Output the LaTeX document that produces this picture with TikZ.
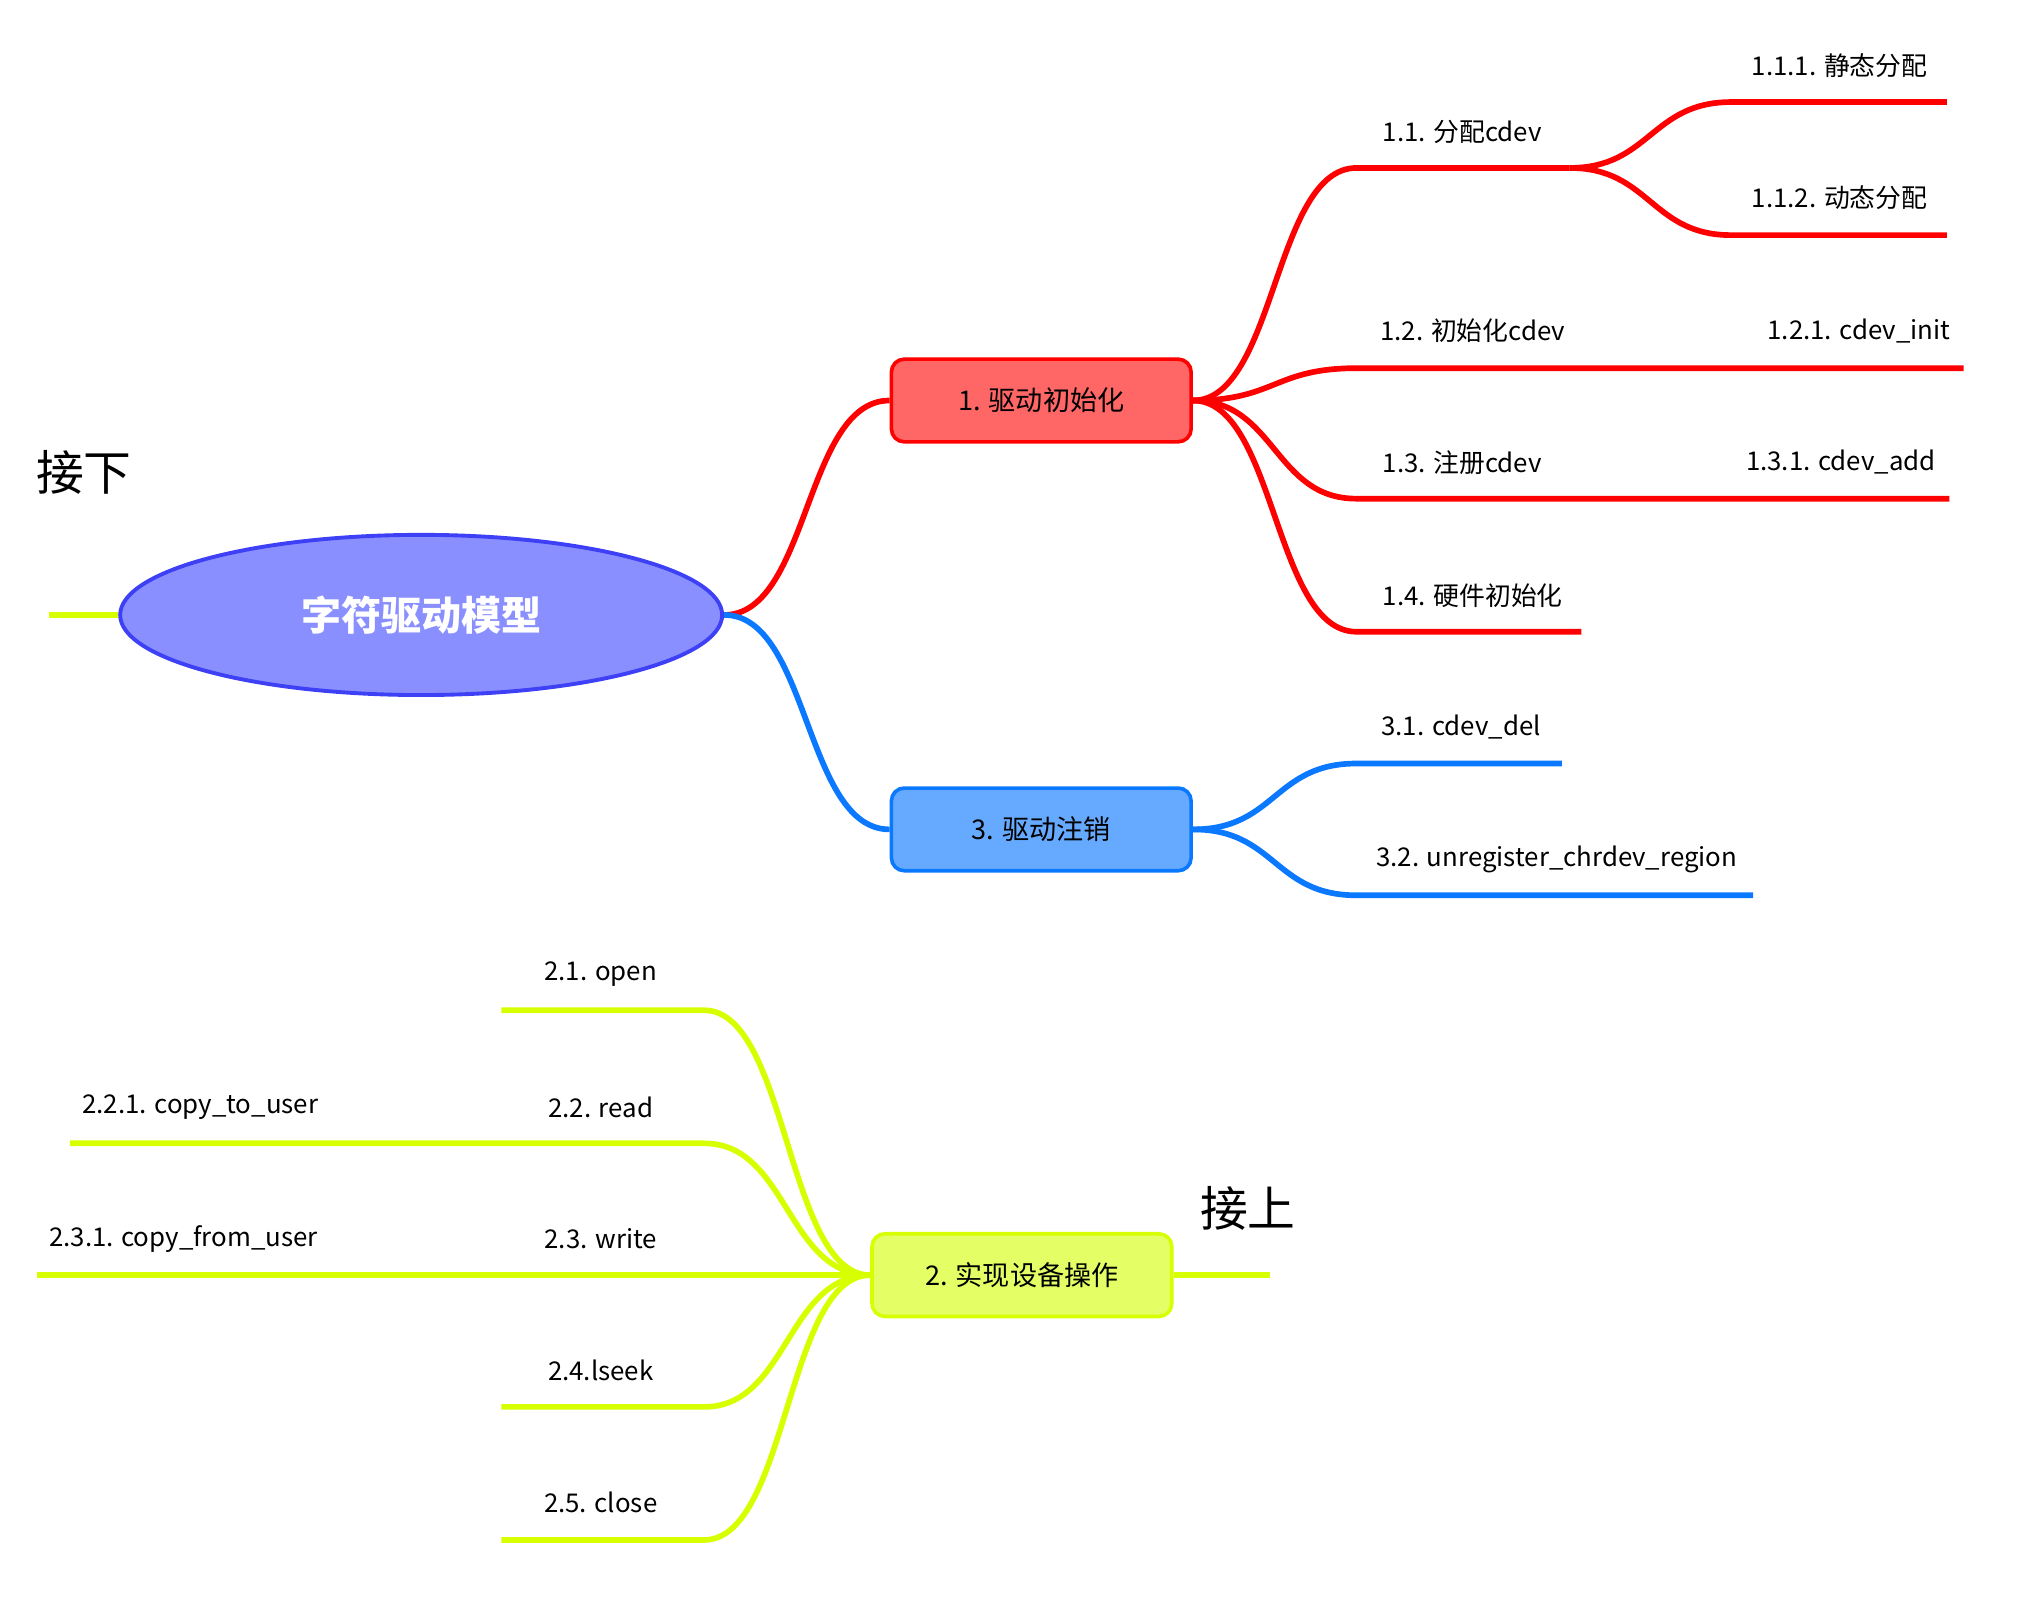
\documentclass[tikz,border=0pt]{standalone}
\usepackage{fontspec}
\setmainfont{Noto Sans CJK SC}
\usetikzlibrary{shapes.geometric}
\definecolor{cred}{HTML}{FF0000}
\definecolor{cblue}{HTML}{0A78FF}
\definecolor{cyel}{HTML}{D7FF00}
\definecolor{rootfill}{HTML}{8A8FFF}
\definecolor{rootdraw}{HTML}{3D40F5}
\definecolor{redfill}{HTML}{FF6666}
\definecolor{bluefill}{HTML}{66AAFF}
\definecolor{yelfill}{HTML}{E4FF66}
\begin{document}
\begin{tikzpicture}[x=1pt,y=-1pt,
  leaf/.style={font=\fontsize{20}{24}\selectfont, inner sep=0pt, anchor=center},
  big/.style={font=\fontsize{37}{44}\selectfont, inner sep=0pt, anchor=center},
  branch/.style={line width=4.4pt, line cap=butt},
  sbox/.style={draw, line width=2.8pt, rounded corners=10pt, minimum width=232pt, minimum height=64pt, inner sep=0pt, font=\fontsize{21}{25}\selectfont},
  rootnode/.style={ellipse, draw=rootdraw, fill=rootfill, line width=3pt, minimum width=466pt, minimum height=124pt, inner sep=0pt, text=white, font=\fontsize{31}{36}\selectfont\bfseries}
]
\useasboundingbox (0,0) rectangle (1566.7,1250.9);

% main nodes
\node[rootnode] (root) at (326,476) {字符驱动模型};
\node[sbox, draw=cred, fill=redfill] (n1) at (806,310) {1. 驱动初始化};
\node[sbox, draw=cblue, fill=bluefill] (n3) at (806,642) {3. 驱动注销};
\node[sbox, draw=cyel, fill=yelfill] (n2) at (791,987) {2. 实现设备操作};

\node[big] (jx) at (65,366) {接下};
\node[big] (js) at (966,935) {接上};

% labels
\node[leaf] (t11) at (1132,102) {1.1. 分配cdev};
\node[leaf] (t111) at (1424,51) {1.1.1. 静态分配};
\node[leaf] (t112) at (1424,153) {1.1.2. 动态分配};
\node[leaf] (t12) at (1140,256) {1.2. 初始化cdev};
\node[leaf] (t121) at (1439,256) {1.2.1. cdev\_init};
\node[leaf] (t13) at (1132,358) {1.3. 注册cdev};
\node[leaf] (t131) at (1425,358) {1.3.1. cdev\_add};
\node[leaf] (t14) at (1140,461) {1.4. 硬件初始化};
\node[leaf] (t31) at (1131,563) {3.1. cdev\_del};
\node[leaf] (t32) at (1205,665) {3.2. unregister\_chrdev\_region};
\node[leaf] (t21) at (465,754) {2.1. open};
\node[leaf] (t22) at (465,857) {2.2. read};
\node[leaf] (t221) at (155,857) {2.2.1. copy\_to\_user};
\node[leaf] (t23) at (465,959) {2.3. write};
\node[leaf] (t231) at (142,959) {2.3.1. copy\_from\_user};
\node[leaf] (t24) at (465,1061) {2.4.lseek};
\node[leaf] (t25) at (465,1163) {2.5. close};

% coordinates of branch lines
\coordinate (rl) at (38,476);
\coordinate (a11) at (1050,130);  \coordinate (b11) at (1215,130);
\coordinate (a111) at (1340,79);  \coordinate (b111) at (1507,79);
\coordinate (a112) at (1340,182); \coordinate (b112) at (1507,182);
\coordinate (a12) at (1050,285);  \coordinate (b12) at (1215,285); \coordinate (b121) at (1520,285);
\coordinate (a13) at (1050,386);  \coordinate (b13) at (1215,386); \coordinate (b131) at (1509,386);
\coordinate (a14) at (1050,489);  \coordinate (b14) at (1224,489);
\coordinate (a31) at (1050,591);  \coordinate (b31) at (1209,591);
\coordinate (a32) at (1050,693);  \coordinate (b32) at (1357,693);
\coordinate (a21) at (545,782);   \coordinate (b21) at (388,782);
\coordinate (a22) at (545,885);   \coordinate (b22) at (388,885); \coordinate (b221) at (54,885);
\coordinate (b23) at (388,987);   \coordinate (b231) at (29,987);
\coordinate (a24) at (545,1089);  \coordinate (b24) at (388,1089);
\coordinate (a25) at (545,1192);  \coordinate (b25) at (388,1192);
\coordinate (r2) at (983,987);

% root connectors
\draw[branch, cyel] (rl) -- (root.west);
\draw[branch, cred] (root.east) .. controls +(66,0) and +(-66,0) .. (n1.west);
\draw[branch, cblue] (root.east) .. controls +(66,0) and +(-66,0) .. (n3.west);

% branch 1
\draw[branch, cred] (n1.east) .. controls +(64,0) and +(-64,0) .. (a11) -- (b11);
\draw[branch, cred] (b11) .. controls +(62,0) and +(-62,0) .. (a111) -- (b111);
\draw[branch, cred] (b11) .. controls +(62,0) and +(-62,0) .. (a112) -- (b112);
\draw[branch, cred] (n1.east) .. controls +(64,0) and +(-64,0) .. (a12) -- (b12) -- (b121);
\draw[branch, cred] (n1.east) .. controls +(64,0) and +(-64,0) .. (a13) -- (b13) -- (b131);
\draw[branch, cred] (n1.east) .. controls +(64,0) and +(-64,0) .. (a14) -- (b14);

% branch 3
\draw[branch, cblue] (n3.east) .. controls +(64,0) and +(-64,0) .. (a31) -- (b31);
\draw[branch, cblue] (n3.east) .. controls +(64,0) and +(-64,0) .. (a32) -- (b32);

% branch 2
\draw[branch, cyel] (n2.east) -- (r2);
\draw[branch, cyel] (n2.west) .. controls +(-65,0) and +(65,0) .. (a21) -- (b21);
\draw[branch, cyel] (n2.west) .. controls +(-65,0) and +(65,0) .. (a22) -- (b22) -- (b221);
\draw[branch, cyel] (n2.west) -- (b23) -- (b231);
\draw[branch, cyel] (n2.west) .. controls +(-65,0) and +(65,0) .. (a24) -- (b24);
\draw[branch, cyel] (n2.west) .. controls +(-65,0) and +(65,0) .. (a25) -- (b25);
\end{tikzpicture}
\end{document}
